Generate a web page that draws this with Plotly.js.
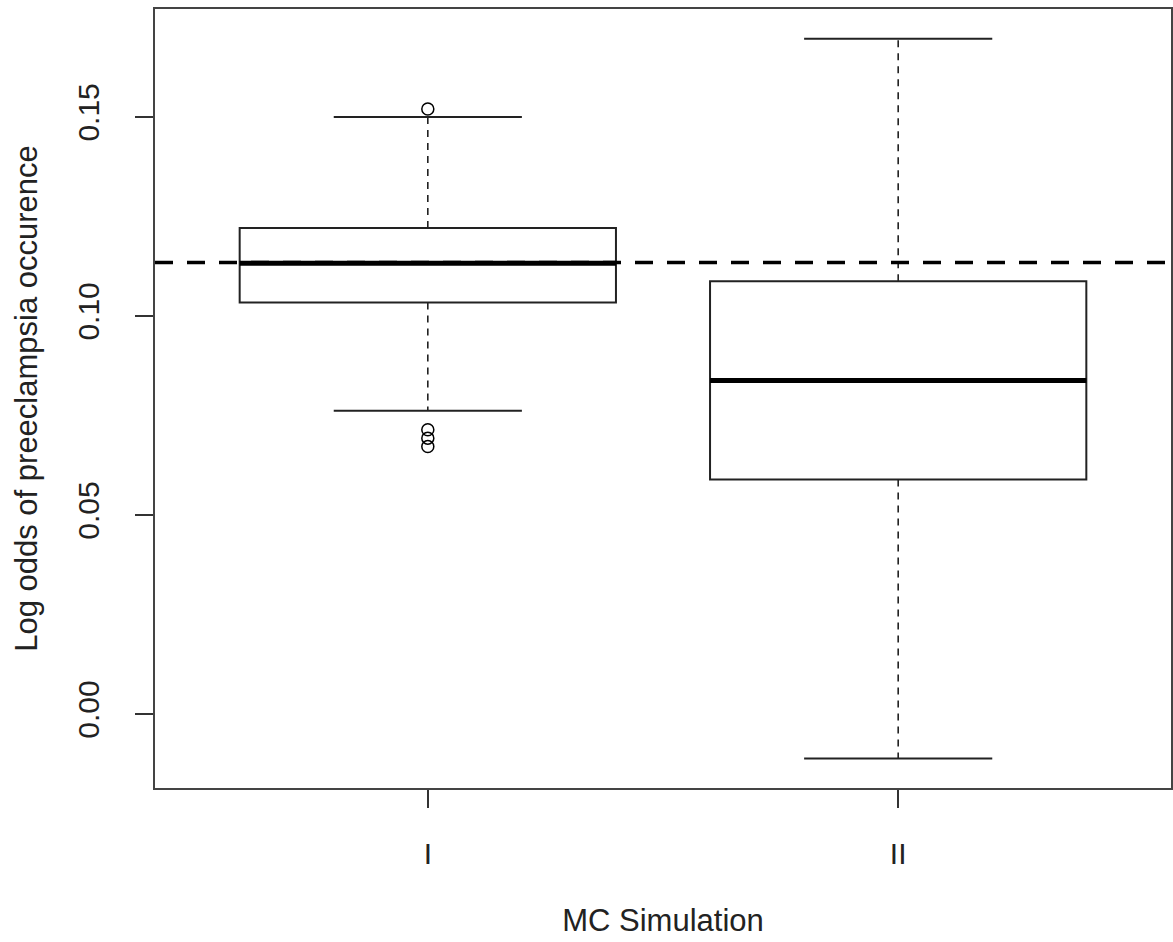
<!DOCTYPE html>
<html>
<head>
<meta charset="utf-8">
<script src="https://cdn.plot.ly/plotly-3.0.1.min.js"></script>
<style>html,body{margin:0;padding:0;background:#fff}#chart{width:1173px;height:942px}</style>
</head>
<body>
<div id="chart"></div>
<script>
// Data
const groups = ["I", "II"];
const groupPos = [1, 2];
const q1 = [0.1034, 0.0589];
const median = [0.1132, 0.0838];
const q3 = [0.1221, 0.1087];
const lowerWhisker = [0.0762, -0.0112];
const upperWhisker = [0.1500, 0.1696];
const outlierGroup = [1, 1, 1, 1];
const outlierValues = [0.1520, 0.0714, 0.0693, 0.0672];
const referenceLine = 0.1134;

const boxHalf = 0.4;
const capHalf = 0.2;
const lineColor = "#222";
const traces = [];

// Boxes (no whiskers: fences set to quartiles)
traces.push({
  type: "box",
  x: groupPos,
  q1: q1, median: median, q3: q3,
  lowerfence: q1, upperfence: q3,
  width: 2 * boxHalf,
  fillcolor: "rgba(0,0,0,0)",
  line: {color: lineColor, width: 2},
  whiskerwidth: 0,
  boxpoints: false,
  showlegend: false,
  hoverinfo: "skip"
});

for (let i = 0; i < groups.length; i++) {
  const c = groupPos[i];
  // dashed whiskers
  traces.push({type: "scatter", mode: "lines", x: [c, c], y: [q3[i], upperWhisker[i]],
    line: {color: lineColor, width: 1.6, dash: "7px,6px"}, showlegend: false, hoverinfo: "skip"});
  traces.push({type: "scatter", mode: "lines", x: [c, c], y: [q1[i], lowerWhisker[i]],
    line: {color: lineColor, width: 1.6, dash: "7px,6px"}, showlegend: false, hoverinfo: "skip"});
  // caps
  traces.push({type: "scatter", mode: "lines", x: [c - capHalf, c + capHalf], y: [upperWhisker[i], upperWhisker[i]],
    line: {color: lineColor, width: 2}, showlegend: false, hoverinfo: "skip"});
  traces.push({type: "scatter", mode: "lines", x: [c - capHalf, c + capHalf], y: [lowerWhisker[i], lowerWhisker[i]],
    line: {color: lineColor, width: 2}, showlegend: false, hoverinfo: "skip"});
  // thick median
  traces.push({type: "scatter", mode: "lines", x: [c - boxHalf, c + boxHalf], y: [median[i], median[i]],
    line: {color: "#000", width: 5}, showlegend: false, hoverinfo: "skip"});
}

// outliers
traces.push({type: "scatter", mode: "markers", x: outlierGroup, y: outlierValues,
  marker: {symbol: "circle-open", size: 12, color: "#000", line: {width: 1.5, color: "#000"}},
  showlegend: false});

const layout = {
  width: 1173, height: 942,
  margin: {l: 155, r: 2, t: 9, b: 154},
  paper_bgcolor: "#fff", plot_bgcolor: "#fff",
  font: {family: "Liberation Sans, Arial, sans-serif", size: 30, color: "#222"},
  showlegend: false,
  xaxis: {
    range: [0.42, 2.58],
    tickmode: "array", tickvals: groupPos, ticktext: groups,
    ticks: "outside", ticklen: 18, tickwidth: 2, tickcolor: "#333",
    ticklabelstandoff: 20,
    showgrid: false, zeroline: false,
    showline: true, mirror: true, linecolor: "#444", linewidth: 2,
    title: {text: "MC Simulation", font: {size: 31, color: "#222"}, standoff: 40},
    automargin: false
  },
  yaxis: {
    range: [-0.01859, 0.1771],
    tickmode: "array", tickvals: [0.00, 0.05, 0.10, 0.15], ticktext: ["0.00", "0.05", "0.10", "0.15"],
    tickangle: -90,
    ticks: "outside", ticklen: 18, tickwidth: 2, tickcolor: "#333",
    ticklabelstandoff: 24,
    showgrid: false, zeroline: false,
    showline: true, mirror: true, linecolor: "#444", linewidth: 2,
    title: {text: "Log odds of preeclampsia occurence", font: {size: 31, color: "#222"}, standoff: 25},
    automargin: false
  },
  shapes: [{
    type: "line", xref: "paper", x0: 0, x1: 1, yref: "y", y0: referenceLine, y1: referenceLine,
    line: {color: "#000", width: 3.5, dash: "18px,14px"}
  }]
};

Plotly.newPlot("chart", traces, layout, {staticPlot: true, displayModeBar: false});
</script>
</body>
</html>
